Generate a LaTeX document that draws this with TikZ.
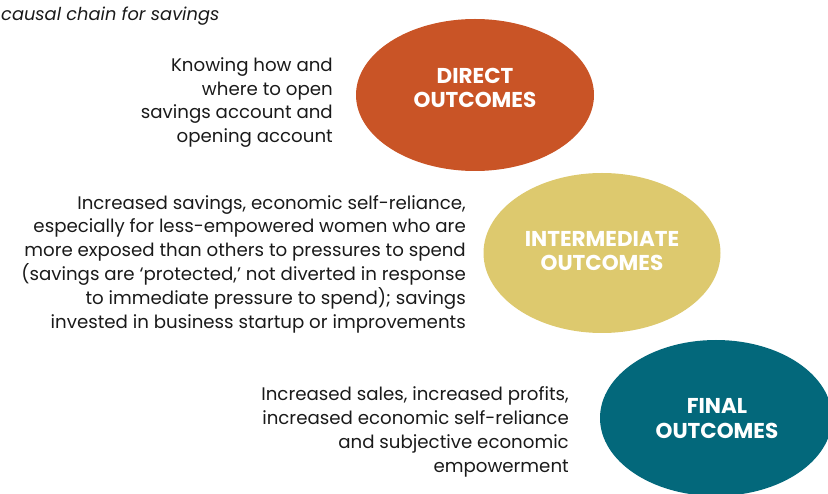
\documentclass[tikz,border=0pt]{standalone}
\usepackage{fontspec}
\setmainfont{Poppins}
\usetikzlibrary{shapes.geometric}
\definecolor{cdirect}{HTML}{C95426}
\definecolor{cinter}{HTML}{DDC96E}
\definecolor{cfinal}{HTML}{03687B}
\definecolor{ctext}{HTML}{1A1A1A}
\tikzset{
  outc/.style={inner sep=0pt, text=white, font=\fontsize{21.5}{24.5}\selectfont\bfseries, align=center},
  desc/.style={anchor=east, align=right, text=ctext, inner sep=0pt, font=\fontsize{18.2}{23.8}\selectfont},
}
\begin{document}
\begin{tikzpicture}[x=1pt,y=-1pt]
\useasboundingbox (0,0) rectangle (828,494);
\begin{scope}
\clip (0,0) rectangle (828,494);
\fill[cdirect] (475,95) ellipse [x radius=119, y radius=76];
\fill[cinter] (602,253) ellipse [x radius=118.5, y radius=80];
\fill[cfinal] (716,418) ellipse [x radius=116, y radius=78];
\end{scope}
\node[outc] (direct) at (475,88) {DIRECT\\OUTCOMES};
\node[outc] (inter) at (602,251) {INTERMEDIATE\\OUTCOMES};
\node[outc] (final) at (717,418.5) {FINAL\\OUTCOMES};
\node[anchor=west, inner sep=0pt, text=ctext, font=\fontsize{17.8}{20}\selectfont\itshape] (title) at (1,16) {causal chain for savings};
\node[desc] (t1) at (333,102.5) {Knowing how and\\where to open\\savings account and\\opening account};
\node[desc] (t2) at (466,264) {Increased savings, economic self-reliance,\\especially for less-empowered women who are\\more exposed than others to pressures to spend\\(savings are ‘protected,’ not diverted in response\\to immediate pressure to spend); savings\\invested in business startup or improvements};
\node[desc] (t3) at (569,432) {Increased sales, increased profits,\\increased economic self-reliance\\and subjective economic\\empowerment};
\end{tikzpicture}
\end{document}
